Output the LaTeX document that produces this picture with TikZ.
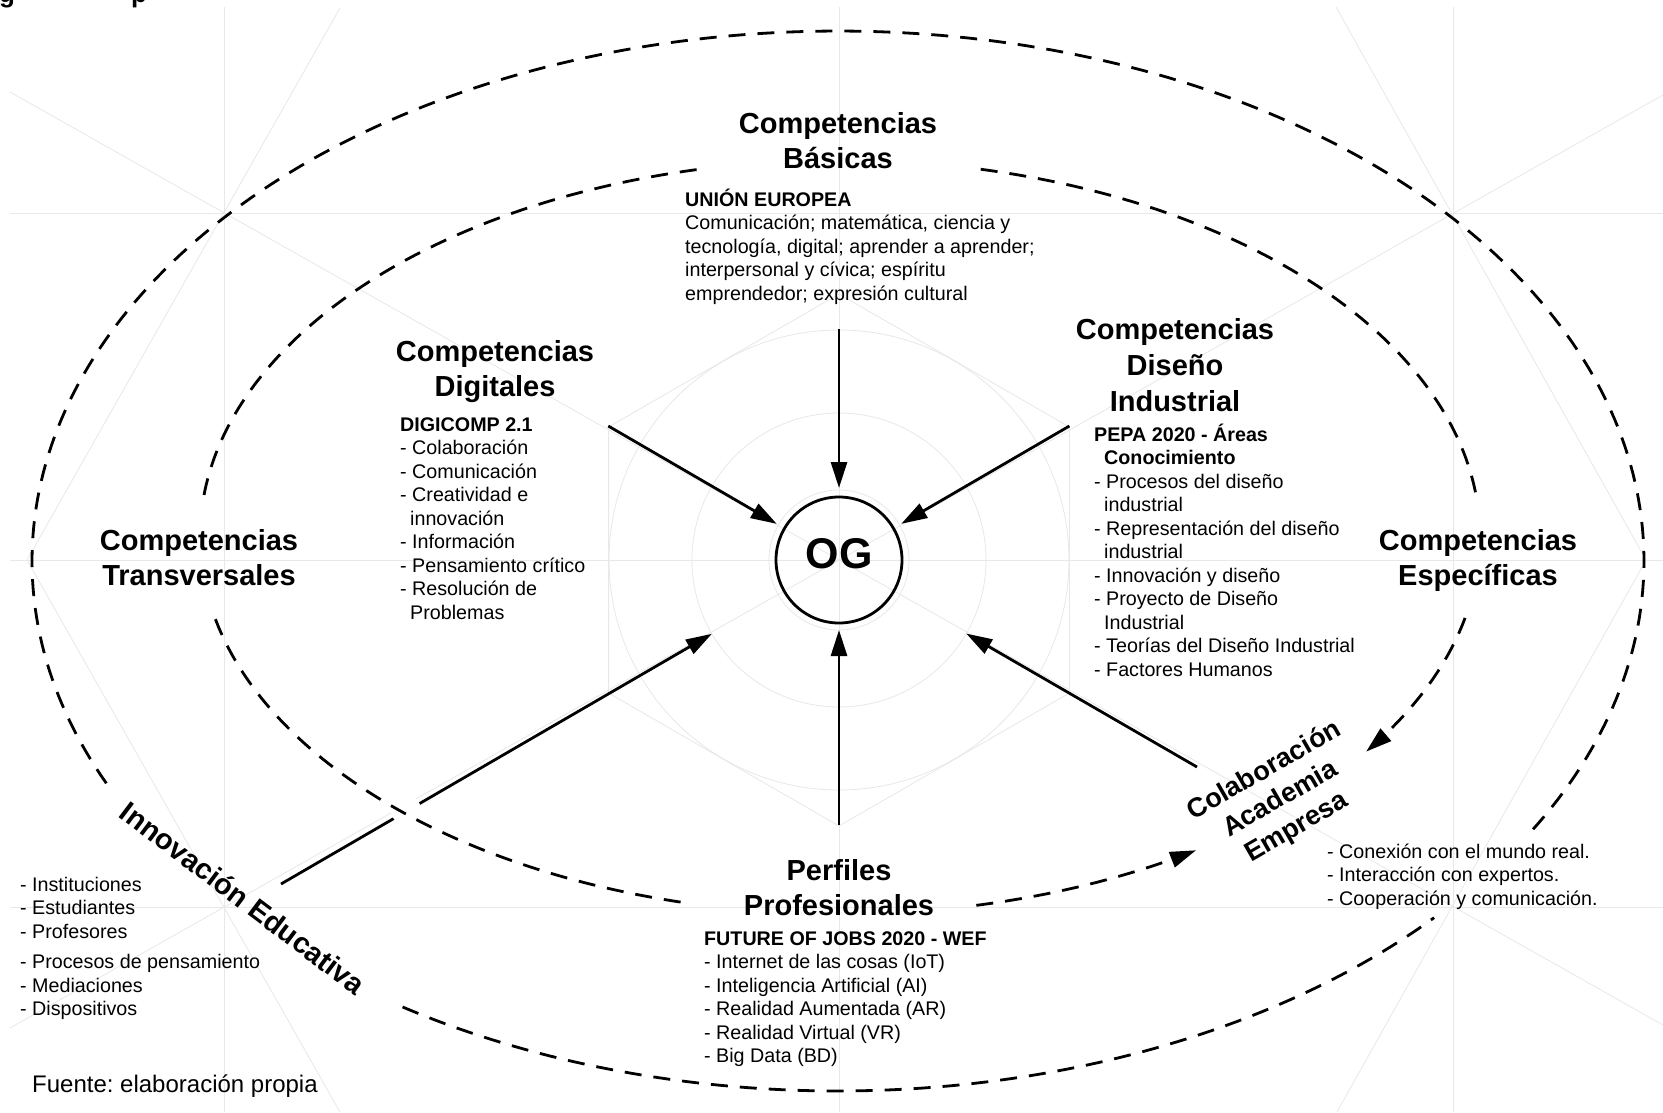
\documentclass[tikz,border=0pt]{standalone}
\usepackage{fontspec}
\setmainfont{Liberation Sans}
\usetikzlibrary{arrows.meta}
\frenchspacing

% left- or centre-aligned block whose baseline is that of its first line
\newcommand{\lbl}[2][l]{\begin{tabular}[t]{@{}#1@{}}#2\end{tabular}}
\newcommand{\ind}{\hspace*{10pt}}

\begin{document}
\begin{tikzpicture}[x=1pt,y=-1pt,
  guide/.style={draw=black!9, line width=0.8pt},
  ring/.style={black, line width=2.8pt, dash pattern=on 17pt off 12pt},
  tip/.style={-{Triangle[length=26pt,width=16pt]}},
  link/.style={black, line width=2.8pt, tip},
  title/.style={font=\fontsize{29}{35}\selectfont\bfseries, inner sep=0pt, anchor=base},
  body/.style={font=\fontsize{19.7}{23.5}\selectfont, inner sep=0pt, anchor=base west},
]
\useasboundingbox (0,0) rectangle (1663,1112);
\fill[white] (0,0) rectangle (1663,1112);

% ---------- faint construction grid ----------
\draw[guide] (224,7) -- (224,1112);
\draw[guide] (839,7) -- (839,1112);
\draw[guide] (1453,7) -- (1453,1112);
\draw[guide] (10,213) -- (1663,213);
\draw[guide] (10,560) -- (1663,560);
\draw[guide] (10,907) -- (1663,907);
\draw[guide] (10,92) -- (1663,1025);
\draw[guide] (10,1028) -- (1663,95);
\draw[guide] (340,8) -- (27,560) -- (340,1112);
\draw[guide] (1336,7) -- (1646,560) -- (1337,1112);
\draw[guide] (839,294) -- (608.6,427) -- (608.6,693) -- (839,826)
             -- (1069.4,693) -- (1069.4,427) -- cycle;
\draw[guide] (839,560) circle (230);
\draw[guide] (839,560) circle (147);
\draw[guide] (839,560) circle (70);

% ---------- cropped caption descenders ----------
\node[font=\fontsize{26}{26}\selectfont\bfseries, anchor=base west, inner sep=0pt] (capg) at (-1,2) {g};
\node[font=\fontsize{26}{26}\selectfont\bfseries, anchor=base west, inner sep=0pt] (capp) at (131,2) {p};

% ---------- centre ----------
\node[circle, draw, line width=2.8pt, minimum size=126pt, inner sep=0pt] (og) at (839,560) {};
\node[font=\fontsize{43}{43}\selectfont\bfseries, anchor=base, inner sep=0pt] (ogt) at (839,568) {OG};

% ---------- titles ----------
\node[title] (basicas) at (838,133) {\lbl[c]{Competencias\\Básicas}};
\node[title] (digitales) at (495,361) {\lbl[c]{Competencias\\Digitales}};
\node[title] (diseno) at (1175,339) {\lbl[c]{Competencias\\[1pt]Diseño\\[1pt]Industrial}};
\node[title] (transversales) at (199,550) {\lbl[c]{Competencias\\Transversales}};
\node[title] (especificas) at (1478,550) {\lbl[c]{Competencias\\Específicas}};
\node[title] (perfiles) at (839,880) {\lbl[c]{Perfiles\\Profesionales}};
\node[font=\fontsize{29}{35}\selectfont\bfseries, inner sep=0pt, rotate=-37] (innovacion) at (243,898) {Innovación Educativa};
\node[font=\fontsize{27}{32.5}\selectfont\bfseries, inner sep=0pt, rotate=30] (colab) at (1281,800)
  {\begin{tabular}{@{}c@{}}Colaboración\\Academia\\Empresa\end{tabular}};

% ---------- descriptions ----------
\node[body] (ue) at (685,206) {\lbl{\textbf{UNIÓN EUROPEA}\\
  Comunicación; matemática, ciencia y\\
  tecnología, digital; aprender a aprender;\\
  interpersonal y cívica; espíritu\\
  emprendedor; expresión cultural}};
\node[body] (digi) at (400,431) {\lbl{\textbf{DIGICOMP 2.1}\\
  - Colaboración\\- Comunicación\\- Creatividad e\\\ind innovación\\
  - Información\\- Pensamiento crítico\\- Resolución de\\\ind Problemas}};
\node[body] (pepa) at (1094,441) {\lbl{\textbf{PEPA 2020 - Áreas}\\\ind\textbf{Conocimiento}\\
  - Procesos del diseño\\\ind industrial\\
  - Representación del diseño\\\ind industrial\\
  - Innovación y diseño\\- Proyecto de Diseño\\\ind Industrial\\
  - Teorías del Diseño Industrial\\- Factores Humanos}};
\node[body] (wef) at (704,945) {\lbl{\textbf{FUTURE OF JOBS 2020 - WEF}\\
  - Internet de las cosas (IoT)\\- Inteligencia Artificial (AI)\\
  - Realidad Aumentada (AR)\\- Realidad Virtual (VR)\\- Big Data (BD)}};
\node[body] (actores) at (20,891) {\lbl{- Instituciones\\- Estudiantes\\- Profesores\\[7pt]
  - Procesos de pensamiento\\- Mediaciones\\- Dispositivos}};
\node[body] (beneficios) at (1327,858) {\lbl{- Conexión con el mundo real.\\
  - Interacción con expertos.\\- Cooperación y comunicación.}};
\node[font=\fontsize{24}{28}\selectfont, anchor=base west, inner sep=0pt] (fuente) at (32,1092) {Fuente: elaboración propia};

% ---------- arrows into the centre ----------
\coordinate (sTop) at (839,329);
\coordinate (sUL) at (608.3,426);
\coordinate (sUR) at (1069.4,426);
\coordinate (sBot) at (839,825);
\coordinate (sLL) at (281,884);
\coordinate (sLR) at (1197,767);
\draw[link, shorten >=7.6pt] (sTop) -- (og);
\draw[link, shorten >=7.6pt] (sUL) -- (og);
\draw[link, shorten >=7.6pt] (sUR) -- (og);
\draw[link, shorten >=5.6pt] (sBot) -- (og);
\draw[link, shorten >=82.6pt] (sLL) -- (og);
\draw[link, shorten >=82.6pt] (sLR) -- (og);

% gap in the lower-left arrow where the inner ring crosses it
\fill[white] (406,810) circle (15);

% ---------- inner ring ----------
\draw[ring] plot[domain=-173.6:-102.3, samples=90] ({840+640*cos(\x)}, {537+377*sin(\x)});
\draw[ring] plot[domain=-77.3:-5.6, samples=90] ({840+640*cos(\x)}, {537+377*sin(\x)});
\draw[ring, tip] plot[domain=12.4:34.7, samples=40] ({840+640*cos(\x)}, {537+377*sin(\x)});
\draw[ring] plot[domain=167.4:103.9, samples=90] ({840+640*cos(\x)}, {537+377*sin(\x)});
\draw[ring, tip] plot[domain=77.7:56.2, samples=40] ({840+640*cos(\x)}, {537+377*sin(\x)});

% ---------- outer ring ----------
\draw[ring] plot[domain=-204.8:30.8, samples=240] ({838+806*cos(\x)}, {561+530*sin(\x)});
\draw[ring] plot[domain=122.7:42.3, samples=90] ({838+806*cos(\x)}, {561+530*sin(\x)});
\end{tikzpicture}
\end{document}
